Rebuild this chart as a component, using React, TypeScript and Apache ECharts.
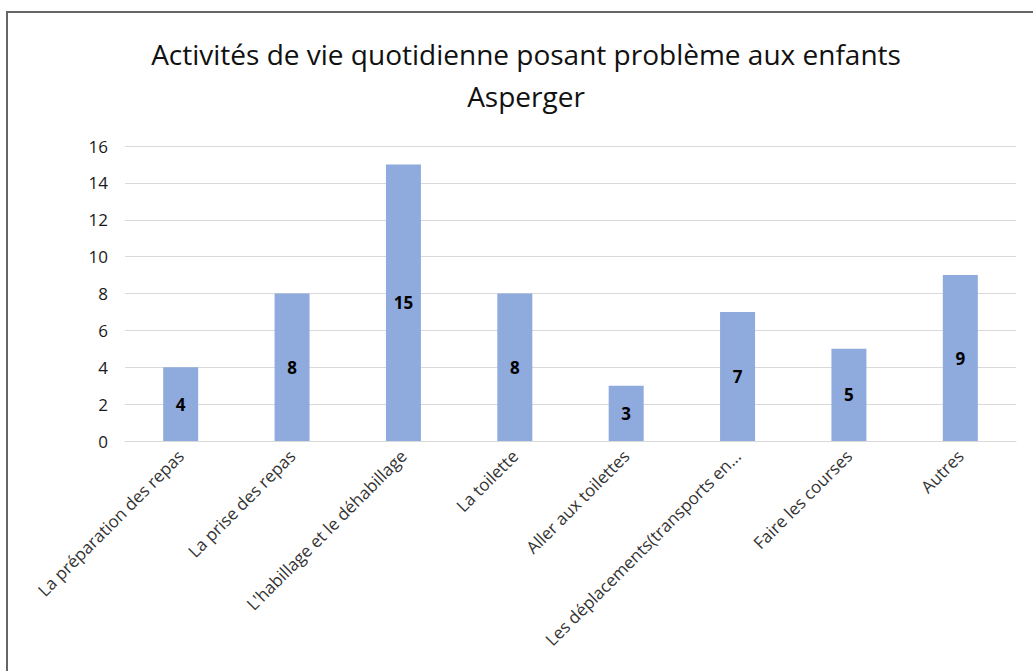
import React, { useEffect, useRef } from "react";
import * as echarts from "echarts";

const titleLines = ["Activités de vie quotidienne posant problème aux enfants", "Asperger"];
const categories = [
  "La préparation des repas",
  "La prise des repas",
  "L'habillage et le déhabillage",
  "La toilette",
  "Aller aux toilettes",
  "Les déplacements(transports en...",
  "Faire les courses",
  "Autres",
];
const values = [4, 8, 15, 8, 3, 7, 5, 9];
const yMin = 0;
const yMax = 16;
const yInterval = 2;

const FONT = "'Open Sans', 'Noto Sans', sans-serif";

export default function App() {
  const ref = useRef<HTMLDivElement>(null);
  useEffect(() => {
    if (!ref.current) return;
    const chart = echarts.init(ref.current, null, { renderer: "svg" });
    chart.setOption({
      animation: false,
      backgroundColor: "#ffffff",
      graphic: [
        {
          type: "rect",
          shape: { x: 7, y: 12, width: 1100, height: 700 },
          style: { fill: "none", stroke: "#666666", lineWidth: 2 },
          silent: true,
          z: -1,
        },
      ],
      title: {
        text: titleLines.join("\n"),
        left: 521,
        textAlign: "center",
        top: 28,
        textStyle: {
          fontFamily: FONT,
          fontSize: 28,
          fontWeight: "normal",
          color: "#111111",
          lineHeight: 42,
        },
      },
      grid: { left: 125, right: 17, top: 146, bottom: 230, containLabel: false },
      xAxis: {
        type: "category",
        data: categories,
        axisLine: { lineStyle: { color: "#d9d9d9", width: 1 } },
        axisTick: { show: false },
        axisLabel: {
          rotate: 45,
          interval: 0,
          margin: 12,
          fontFamily: FONT,
          fontSize: 17,
          color: "#333333",
        },
      },
      yAxis: {
        type: "value",
        min: yMin,
        max: yMax,
        interval: yInterval,
        axisLine: { show: false },
        axisTick: { show: false },
        splitLine: { lineStyle: { color: "#d9d9d9", width: 1 } },
        axisLabel: {
          margin: 17,
          fontFamily: FONT,
          fontSize: 17,
          color: "#1a1a1a",
        },
      },
      series: [
        {
          type: "bar",
          data: values,
          barWidth: 35,
          itemStyle: { color: "#8faadc" },
          label: {
            show: true,
            position: "inside",
            fontFamily: FONT,
            fontSize: 17,
            fontWeight: "bold",
            color: "#000000",
          },
        },
      ],
    });
    return () => chart.dispose();
  }, []);
  return (
    <div
      ref={ref}
      style={{ position: "absolute", left: 0, top: 0, width: 1033, height: 671 }}
    />
  );
}
